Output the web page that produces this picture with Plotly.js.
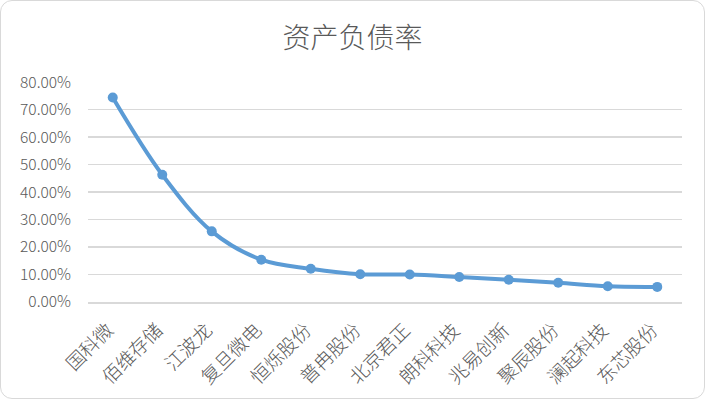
<!DOCTYPE html>
<html><head><meta charset="utf-8">
<script src="https://cdn.plot.ly/plotly-3.0.1.min.js"></script>
<style>
html,body{margin:0;padding:0;background:#fff;}
#wrap{position:relative;width:705px;height:399px;}
#chart{position:absolute;left:0;top:0;width:705px;height:399px;}
#frame{position:absolute;left:0;top:0;width:703px;height:397px;border:1px solid #d9d9d9;border-radius:12px;pointer-events:none;}
</style></head>
<body><div id="wrap"><div id="chart"></div><div id="frame"></div></div>
<script>
const categories = ["国科微","佰维存储","江波龙","复旦微电","恒烁股份","普冉股份","北京君正","朗科科技","兆易创新","聚辰股份","澜起科技","东芯股份"];
const debtRatio = [0.744, 0.463, 0.257, 0.154, 0.121, 0.101, 0.100, 0.091, 0.081, 0.070, 0.057, 0.055];
const yTicks = [0,0.1,0.2,0.3,0.4,0.5,0.6,0.7,0.8];
const yTickText = yTicks.map(v => (v*100).toFixed(2) + "%");

const font = "'Noto Sans CJK SC', 'Microsoft YaHei', sans-serif";
Plotly.newPlot('chart', [{
  x: categories, y: debtRatio, type: 'scatter', mode: 'lines+markers',
  line: {color: '#5B9BD5', width: 4, shape: 'spline', smoothing: 1},
  marker: {color: '#5B9BD5', size: 10},
  hoverinfo: 'none'
}], {
  width: 705, height: 399,
  margin: {l: 88, r: 23, t: 82, b: 97},
  paper_bgcolor: 'rgba(0,0,0,0)', plot_bgcolor: '#fff',
  showlegend: false,
  title: {text: '资产负债率', x: 0.5, xanchor: 'center', y: 0.905, yanchor: 'middle',
          font: {family: font, size: 28, color: '#595959', weight: 300}},
  xaxis: {type: 'category', range: [-0.5, 11.5], tickangle: -45,
          tickfont: {family: font, size: 19, color: '#595959', weight: 300},
          ticklabelstandoff: 8, ticklabelshift: -5,
          showgrid: false, showline: true, linecolor: '#d9d9d9', linewidth: 1.5,
          ticks: '', fixedrange: true},
  yaxis: {range: [0, 0.8005], tickvals: yTicks, ticktext: yTickText,
          tickfont: {family: font, size: 15.5, color: '#595959', weight: 300},
          ticklabelstandoff: 16,
          showgrid: true, gridcolor: '#d9d9d9', gridwidth: 1.5, zeroline: false,
          ticks: '', ticklen: 0, showline: false, fixedrange: true}
}, {displayModeBar: false, staticPlot: true});
</script></body></html>
